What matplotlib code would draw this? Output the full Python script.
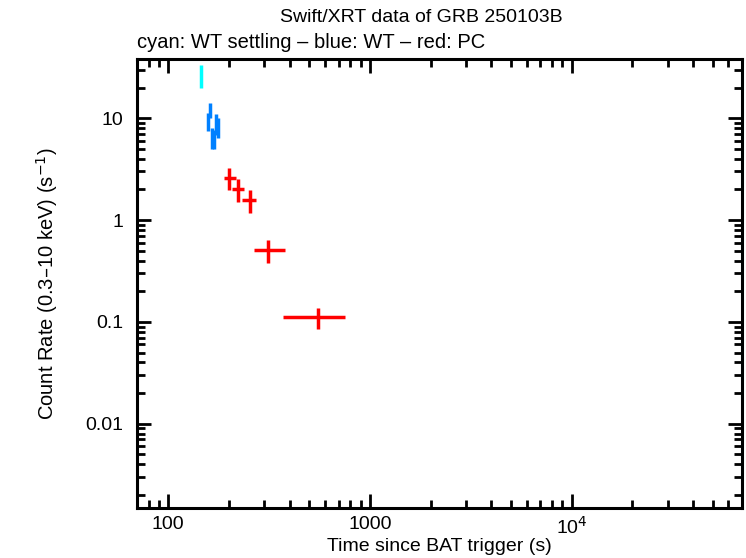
import numpy as np
import matplotlib
matplotlib.use("Agg")
import matplotlib.pyplot as plt
from matplotlib.ticker import FixedLocator, LogLocator, NullFormatter

plt.rcParams['font.family'] = ['Liberation Sans', 'DejaVu Sans']

# WT settling (cyan)
t_set = [146.0]
t_set_lo = [0.5]
t_set_hi = [0.5]
r_set = [26.0]
r_set_lo = [6.0]
r_set_hi = [7.0]

# WT (blue)
t_wt = [158.0, 162.0, 164.0, 168.5, 172.0, 176.0]
t_wt_lo = [1.5, 1.5, 1.5, 1.5, 1.5, 1.5]
t_wt_hi = [1.5, 1.5, 1.5, 1.5, 1.5, 1.5]
r_wt = [9.3, 12.0, 6.65, 6.5, 8.9, 8.1]
r_wt_lo = [1.8, 2.0, 1.65, 1.5, 2.1, 1.7]
r_wt_hi = [1.9, 2.0, 1.35, 1.1, 2.0, 1.9]

# PC (red)
t_pc = [200.0, 221.0, 253.0, 314.0, 556.0]
t_pc_lo = [12.0, 15.0, 21.0, 49.0, 187.0]
t_pc_hi = [16.0, 17.0, 19.0, 65.0, 196.0]
r_pc = [2.58, 2.01, 1.56, 0.505, 0.112]
r_pc_lo = [0.61, 0.49, 0.38, 0.123, 0.026]
r_pc_hi = [0.67, 0.53, 0.42, 0.132, 0.025]

fig = plt.figure(figsize=(7.46, 5.58), dpi=100)
ax = fig.add_axes([137/746, 1 - 508/558, 605/746, 449/558])

ax.errorbar(t_set, r_set, xerr=[t_set_lo, t_set_hi], yerr=[r_set_lo, r_set_hi],
            fmt='none', ecolor='#00ffff', elinewidth=2.5, capsize=0)
ax.errorbar(t_wt, r_wt, xerr=[t_wt_lo, t_wt_hi], yerr=[r_wt_lo, r_wt_hi],
            fmt='none', ecolor='#0080ff', elinewidth=2.5, capsize=0)
ax.errorbar(t_pc, r_pc, xerr=[t_pc_lo, t_pc_hi], yerr=[r_pc_lo, r_pc_hi],
            fmt='none', ecolor='#ff0000', elinewidth=2.5, capsize=0)

ax.set_xscale('log')
ax.set_yscale('log')
ax.set_xlim(70, 70000)
ax.set_ylim(0.001486, 38.2)

ax.xaxis.set_major_locator(FixedLocator([100, 1000, 10000]))
ax.set_xticklabels(['100', '1000', '10$^4$'])
ax.xaxis.set_minor_locator(LogLocator(base=10, subs=np.arange(2, 10)))
ax.xaxis.set_minor_formatter(NullFormatter())
ax.yaxis.set_major_locator(FixedLocator([0.01, 0.1, 1, 10]))
ax.set_yticklabels(['0.01', '0.1', '1', '10'])
ax.yaxis.set_minor_locator(LogLocator(base=10, subs=np.arange(2, 10)))
ax.yaxis.set_minor_formatter(NullFormatter())

ax.tick_params(which='both', direction='in', top=True, right=True,
               labelsize=14, width=2)
ax.tick_params(which='major', length=10)
ax.tick_params(which='minor', length=6)
ax.tick_params(axis='x', which='major', pad=6)
ax.tick_params(axis='y', which='major', pad=10)
for s in ax.spines.values():
    s.set_linewidth(2.2)

ax.set_xlabel('Time since BAT trigger (s)', fontsize=14, labelpad=0)
ax.set_ylabel('Count Rate (0.3\u201310 keV) (s$^{-1}$)', fontsize=14.5, labelpad=18)

fig.text(421/746, 1 - 17/558, 'Swift/XRT data of GRB 250103B', ha='center',
         va='center', fontsize=14)
fig.text(137/746, 1 - 42/558, 'cyan: WT settling \u2013 blue: WT \u2013 red: PC',
         ha='left', va='center', fontsize=14.5)

fig.savefig('out.png', dpi=100)
